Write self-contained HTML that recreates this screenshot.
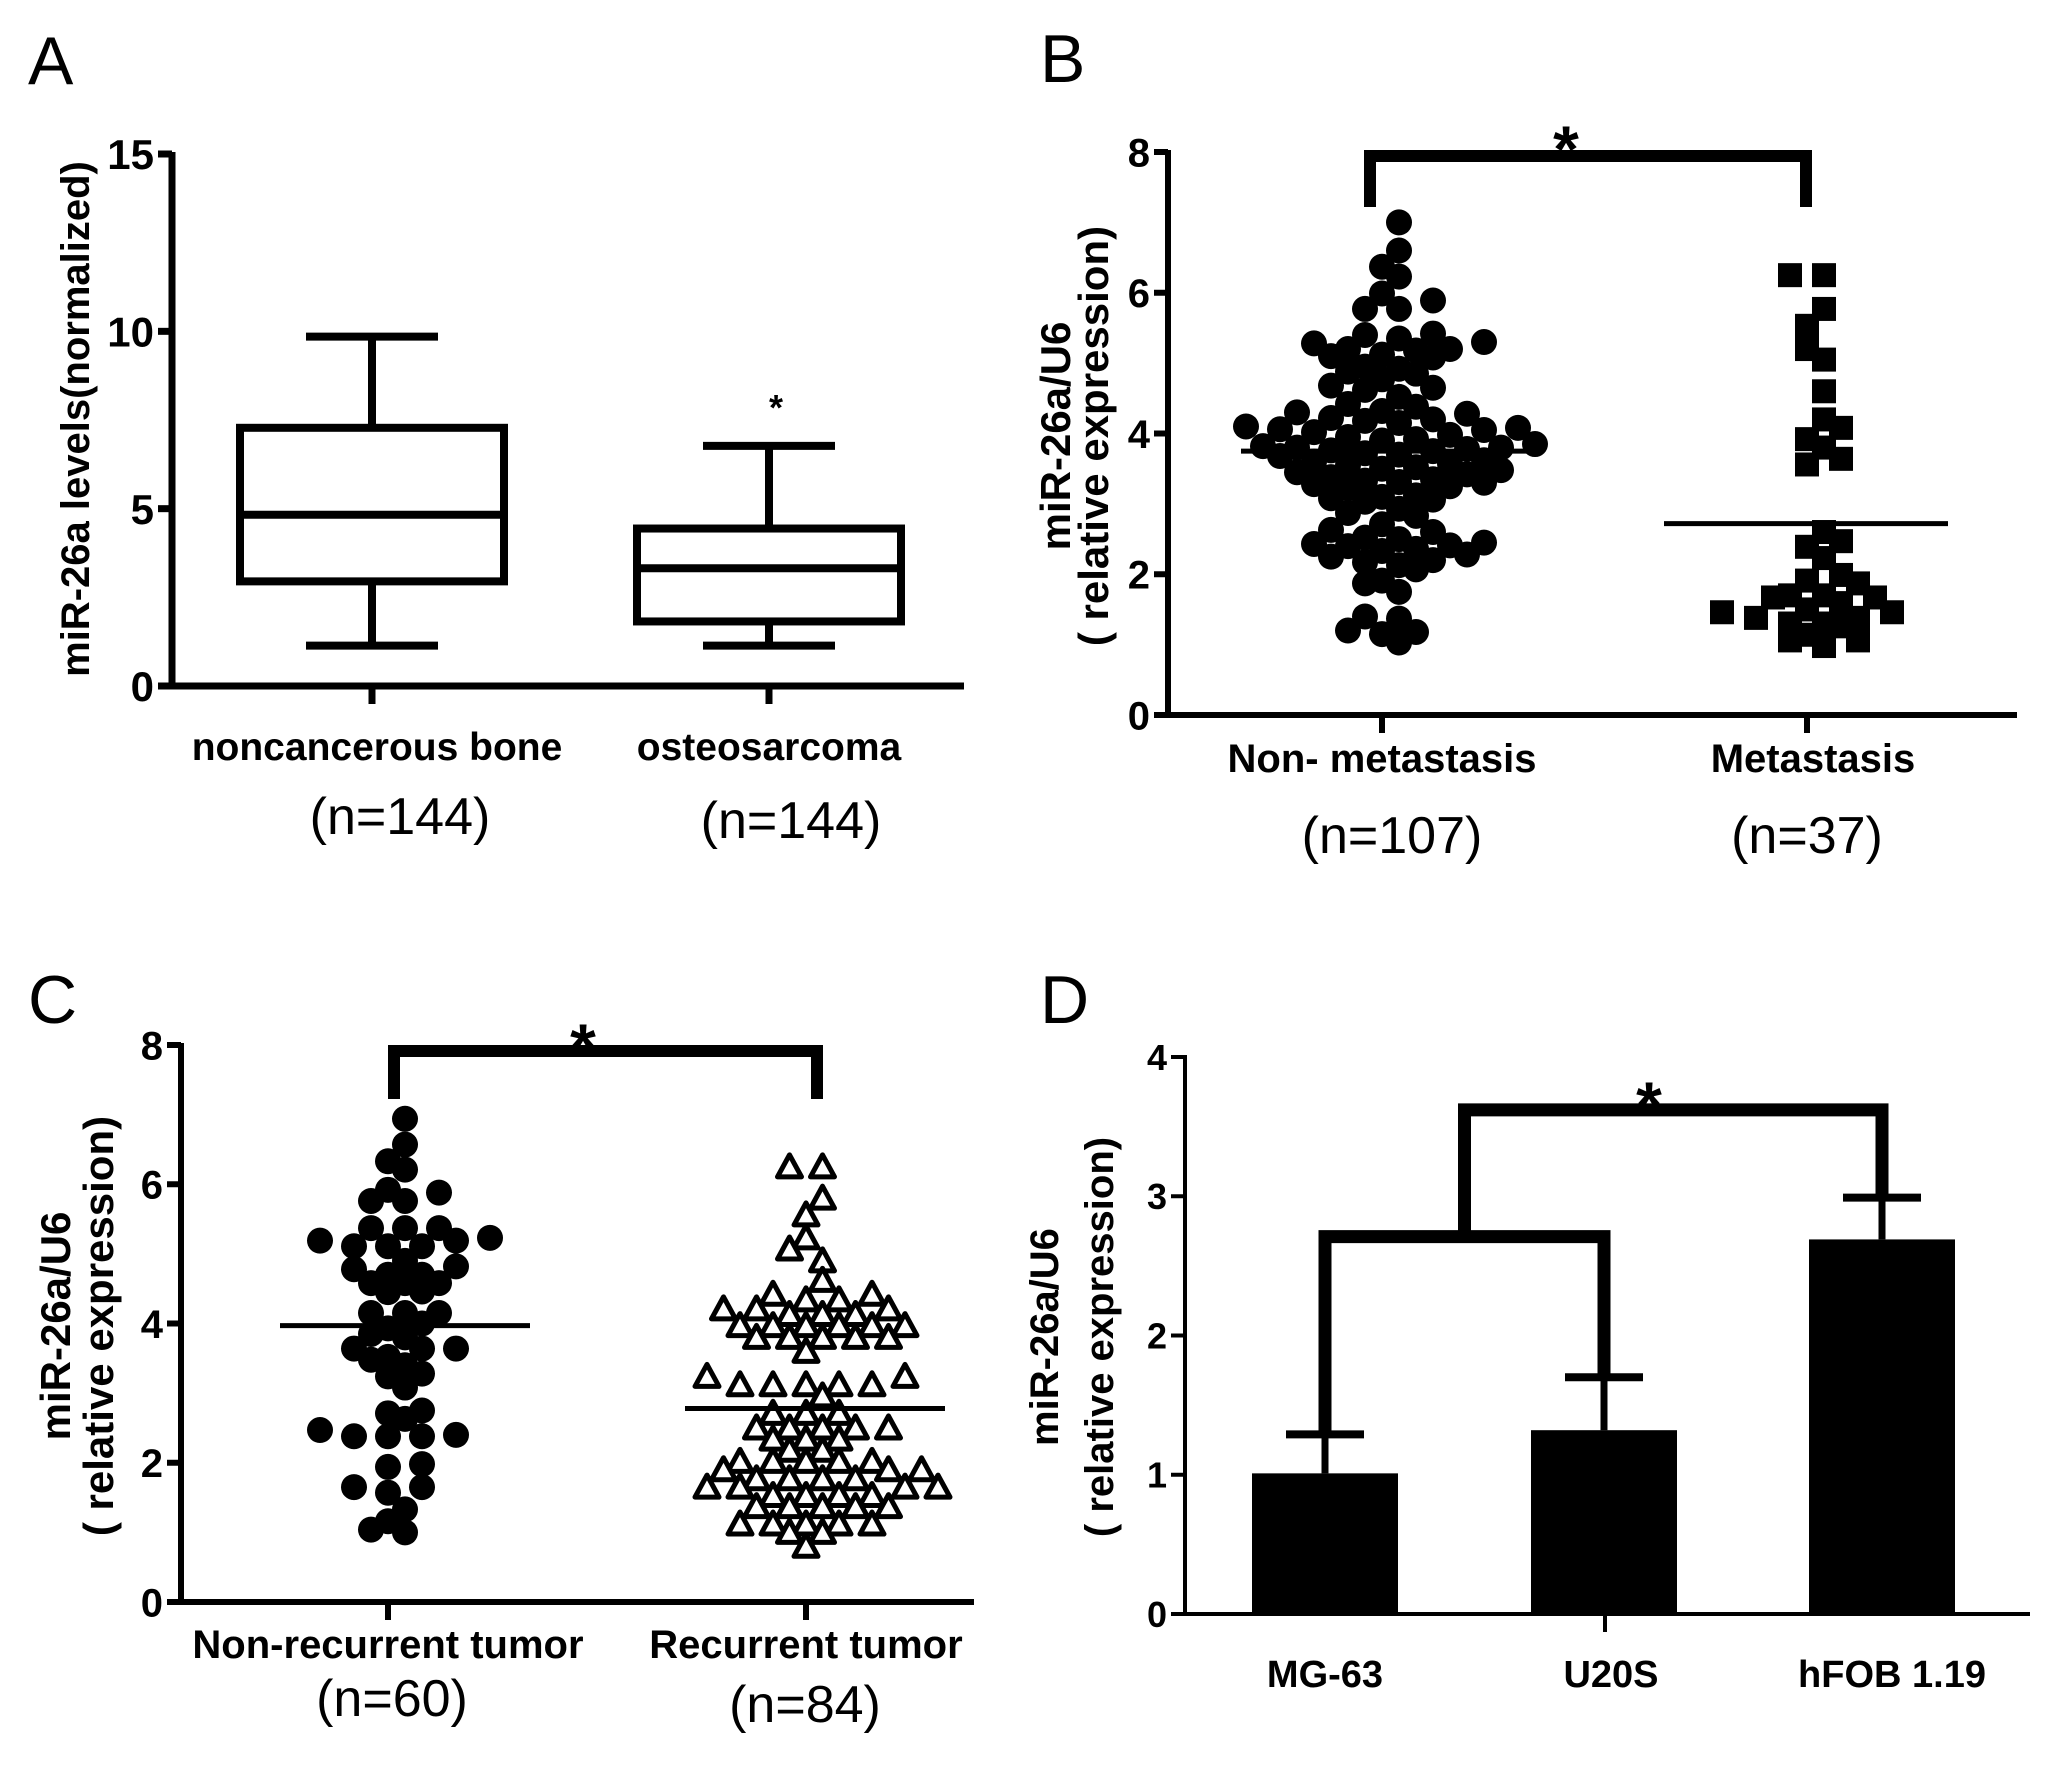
<!DOCTYPE html>
<html><head><meta charset="utf-8">
<style>
html,body{margin:0;padding:0;background:#fff;}
svg{display:block;}
text{font-family:"Liberation Sans",Arial,sans-serif;fill:#000;}
.b{font-weight:bold;}
</style></head>
<body>
<svg id="fig" width="2055" height="1769" viewBox="0 0 2055 1769" xmlns="http://www.w3.org/2000/svg">
<rect width="2055" height="1769" fill="#fff"/>
<text x="28" y="84" font-size="68">A</text>
<text x="1040" y="82" font-size="68">B</text>
<text x="28" y="1023" font-size="68">C</text>
<text x="1040" y="1023" font-size="68">D</text>

<!-- A -->
<text class="b" font-size="40" text-anchor="middle" transform="translate(89,419) rotate(-90)">miR-26a levels(normalized)</text>
<text class="b" font-size="39" x="377" y="760" text-anchor="middle">noncancerous bone</text>
<text class="b" font-size="39" x="769" y="760" text-anchor="middle">osteosarcoma</text>
<text font-size="52" x="400" y="834" text-anchor="middle">(n=144)</text>
<text font-size="52" x="791" y="838" text-anchor="middle">(n=144)</text>
<text class="b" font-size="36" x="776" y="420" text-anchor="middle">*</text>

<!-- B -->
<text class="b" font-size="42" text-anchor="middle" transform="translate(1070,436) rotate(-90)">miR-26a/U6</text>
<text class="b" font-size="42" text-anchor="middle" transform="translate(1108,436) rotate(-90)">( relative expression)</text>
<text class="b" font-size="40" x="1382" y="772" text-anchor="middle">Non- metastasis</text>
<text class="b" font-size="40" x="1813" y="772" text-anchor="middle">Metastasis</text>
<text font-size="52" x="1392" y="853" text-anchor="middle">(n=107)</text>
<text font-size="52" x="1807" y="853" text-anchor="middle">(n=37)</text>
<text class="b" font-size="66" x="1566" y="172" text-anchor="middle">*</text>

<!-- C -->
<text class="b" font-size="42" text-anchor="middle" transform="translate(70,1326) rotate(-90)">miR-26a/U6</text>
<text class="b" font-size="42" text-anchor="middle" transform="translate(113,1326) rotate(-90)">( relative expression)</text>
<text class="b" font-size="40" x="388" y="1658" text-anchor="middle">Non-recurrent tumor</text>
<text class="b" font-size="40" x="806" y="1658" text-anchor="middle">Recurrent tumor</text>
<text font-size="52" x="392" y="1716" text-anchor="middle">(n=60)</text>
<text font-size="52" x="805" y="1722" text-anchor="middle">(n=84)</text>
<text class="b" font-size="66" x="583" y="1070" text-anchor="middle">*</text>

<!-- D -->
<text class="b" font-size="40" text-anchor="middle" transform="translate(1058,1337) rotate(-90)">miR-26a/U6</text>
<text class="b" font-size="40" text-anchor="middle" transform="translate(1113,1337) rotate(-90)">( relative expression)</text>
<text class="b" font-size="38" x="1325" y="1687" text-anchor="middle">MG-63</text>
<text class="b" font-size="38" x="1611" y="1687" text-anchor="middle">U20S</text>
<text class="b" font-size="38" x="1892" y="1687" text-anchor="middle">hFOB 1.19</text>
<text class="b" font-size="66" x="1649" y="1128" text-anchor="middle">*</text>

<g id="marks"></g>
</svg>
<script>
// ---------- DATA ----------
const boxCategories = ["noncancerous bone", "osteosarcoma"];
const boxMin = [1.14, 1.14];
const boxQ1 = [2.95, 1.82];
const boxMedian = [4.83, 3.32];
const boxQ3 = [7.28, 4.44];
const boxMax = [9.85, 6.77];
const ticksA = [0, 5, 10, 15];

const ticksB = [0, 2, 4, 6, 8];
const nonMetastasis = [7.0,6.6,6.37,6.23,5.99,5.89,5.77,5.77,5.42,5.4,
5.35,5.3,5.28,5.2,5.2,5.18,5.12,5.1,5.08,4.92,
4.88,4.85,4.77,4.68,4.65,4.62,4.52,4.42,4.38,4.32,
4.3,4.28,4.22,4.2,4.18,4.15,4.1,4.08,4.06,4.05,
4.02,3.98,3.95,3.92,3.85,3.82,3.8,3.8,3.78,3.76,
3.75,3.72,3.7,3.68,3.6,3.57,3.55,3.52,3.5,3.48,
3.45,3.42,3.38,3.35,3.33,3.31,3.3,3.28,3.25,3.22,
3.12,3.1,3.08,3.06,3.03,2.93,2.87,2.83,2.71,2.63,
2.6,2.52,2.5,2.45,2.43,2.41,2.4,2.36,2.33,2.28,
2.25,2.17,2.13,2.07,1.91,1.87,1.75,1.4,1.37,1.2,
1.18,1.15,1.03,4.95,3.62,3.9,2.2];
const metastasis = [6.25,6.25,5.77,5.53,5.2,5.05,4.6,4.2,4.08,3.92,3.8,3.64,3.56,
2.6,2.47,2.39,2.23,1.99,1.91,1.87,1.7,1.7,1.67,1.67,1.59,1.5,1.46,1.46,1.38,1.38,
1.3,1.3,1.26,1.14,1.06,1.06,0.98];
const meansB = [3.75, 2.72];

const ticksC = [0, 2, 4, 6, 8];
const nonRecurrent = [6.94,6.57,6.33,6.21,5.92,5.88,5.76,5.76,5.37,5.37,5.37,5.23,5.19,5.19,
5.11,5.11,5.11,4.9,4.82,4.78,4.7,4.7,4.58,4.58,4.58,4.46,4.15,4.15,4.15,4.0,3.93,3.85,3.8,
3.64,3.64,3.64,3.52,3.48,3.4,3.28,3.24,3.08,2.75,2.71,2.63,2.47,2.38,2.38,2.38,1.98,1.94,
1.65,1.65,1.57,1.33,1.16,1.04,1.0,4.45,2.4];
const recurrent = [6.25,6.25,5.8,5.56,5.23,5.07,4.9,4.62,4.42,4.42,4.34,4.34,4.21,4.21,4.21,
4.13,4.13,4.13,3.97,3.97,3.97,3.97,3.97,3.97,3.8,3.8,3.8,3.8,3.8,3.6,3.24,3.24,
3.12,3.12,3.12,3.12,3.12,2.96,2.71,2.71,2.71,2.5,2.5,2.5,2.5,2.5,2.34,2.34,2.34,2.18,2.18,
2.02,2.02,2.02,2.02,2.02,1.9,1.9,1.9,1.77,1.77,1.77,1.77,1.65,1.65,1.65,1.65,
1.53,1.53,1.53,1.53,1.37,1.37,1.37,1.37,1.37,1.12,1.12,1.12,1.12,1.12,1.0,1.0,0.8];
const meansC = [3.97, 2.78];

const barCategories = ["MG-63", "U20S", "hFOB 1.19"];
const barValues = [1.01, 1.32, 2.69];
const barErrors = [0.28, 0.38, 0.30];
const ticksD = [0, 1, 2, 3, 4];
const innerBracketY = 2.71;
const outerBracketY = 3.62;

// ---------- DRAWING ----------
const NS = "http://www.w3.org/2000/svg";
const root = document.getElementById("marks");
function add(tag, attrs, name) {
  const e = document.createElementNS(NS, tag);
  for (const k in attrs) e.setAttribute(k, attrs[k]);
  
  
  root.appendChild(e);
  return e;
}
function scaleY(y0px, y1px, vmax) { return v => y0px - (y0px - y1px) * v / vmax; }
function line(x1, y1, x2, y2, w, name) {
  return add("line", {x1, y1, x2, y2, stroke: "#000", "stroke-width": w}, name);
}
function axes(p, ticks, ys, fs, pfx) {
  line(p.ax, ys(ticks[ticks.length-1]) - 2, p.ax, p.y0 + 2, p.w, pfx + "-y-axis");
  line(p.ax - 2, p.y0, p.xend, p.y0, p.w, pfx + "-x-axis");
  ticks.forEach(t => {
    line(p.ax - 14, ys(t), p.ax, ys(t), p.w, pfx + "-y-tick");
    const tx = add("text", {x: p.ax - 18, y: ys(t) + fs * 0.36, "font-size": fs, "font-weight": "bold", "text-anchor": "end"}, pfx + "-y-tick-label");
    tx.textContent = t;
  });
  p.xticks.forEach(x => line(x, p.y0, x, p.y0 + 18, p.w, pfx + "-x-tick"));
}
// hex-packed row layout: even bins on integer grid, odd bins on half grid
function rows(vals, bin, s) {
  const groups = {};
  vals.forEach((v, i) => { const k = Math.round(v / bin); (groups[k] = groups[k] || []).push(i); });
  const xs = new Array(vals.length);
  Object.keys(groups).forEach(k => {
    const g = groups[k].sort((a, b) => vals[a] - vals[b]);
    const odd = Math.abs(+k) % 2 === 1;
    g.forEach((idx, j) => {
      let off;
      if (!odd) off = (j % 2 ? 1 : -1) * Math.ceil(j / 2) * s;
      else off = (j % 2 ? -1 : 1) * (Math.floor(j / 2) + 0.5) * s;
      xs[idx] = off;
    });
  });
  return xs;
}

// Panel A
(function(){
  const p = {ax: 172, y0: 686, xend: 964, w: 7, xticks: [372, 769]};
  const ys = scaleY(686, 154, 15);
  axes(p, ticksA, ys, 42, "a");
  const halfW = 132, capHalf = 66;
  boxCategories.forEach((c, i) => {
    const cx = p.xticks[i];
    add("rect", {x: cx - halfW, y: ys(boxQ3[i]), width: 2*halfW, height: ys(boxQ1[i]) - ys(boxQ3[i]), fill: "none", stroke: "#000", "stroke-width": 8}, "box-" + i);
    line(cx - halfW, ys(boxMedian[i]), cx + halfW, ys(boxMedian[i]), 8, "median-" + i);
    line(cx, ys(boxQ3[i]), cx, ys(boxMax[i]), 8, "whisker-upper-" + i);
    line(cx, ys(boxQ1[i]), cx, ys(boxMin[i]), 8, "whisker-lower-" + i);
    line(cx - capHalf, ys(boxMax[i]), cx + capHalf, ys(boxMax[i]), 8, "whisker-cap-upper-" + i);
    line(cx - capHalf, ys(boxMin[i]), cx + capHalf, ys(boxMin[i]), 8, "whisker-cap-lower-" + i);
  });
})();

// Panel B
(function(){
  const p = {ax: 1168, y0: 715, xend: 2017, w: 6, xticks: [1382, 1807]};
  const ys = scaleY(715, 152, 8);
  axes(p, ticksB, ys, 40, "b");
  const xs1 = rows(nonMetastasis, 0.2, 34);
  nonMetastasis.forEach((v, i) => add("circle", {cx: 1382 + xs1[i], cy: ys(v), r: 13, fill: "#000"}, "dot-non-metastasis"));
  const xs2 = rows(metastasis, 0.2, 34);
  metastasis.forEach((v, i) => add("rect", {x: 1807 + xs2[i] - 12, y: ys(v) - 12, width: 24, height: 24, fill: "#000"}, "square-metastasis"));
  line(1241, ys(meansB[0]), 1527, ys(meansB[0]), 5, "mean-line-non-metastasis");
  line(1664, ys(meansB[1]), 1948, ys(meansB[1]), 5, "mean-line-metastasis");
  add("path", {d: `M1370 207 V156 H1806 V207`, fill: "none", stroke: "#000", "stroke-width": 12}, "significance-bracket-b");
})();

// Panel C
(function(){
  const p = {ax: 181, y0: 1602, xend: 974, w: 6, xticks: [388, 806]};
  const ys = scaleY(1602, 1045, 8);
  axes(p, ticksC, ys, 40, "c");
  const xs1 = rows(nonRecurrent, 0.2, 34);
  nonRecurrent.forEach((v, i) => add("circle", {cx: 388 + xs1[i], cy: ys(v), r: 13, fill: "#000"}, "dot-non-recurrent"));
  const xs2 = rows(recurrent, 0.2, 33);
  recurrent.forEach((v, i) => {
    const cx = 806 + xs2[i], cy = ys(v);
    add("path", {d: `M${cx} ${cy-12} L${cx+12} ${cy+10} L${cx-12} ${cy+10} Z`, fill: "#fff", stroke: "#000", "stroke-width": 5, "stroke-linejoin": "round"}, "triangle-recurrent");
  });
  line(280, ys(meansC[0]), 530, ys(meansC[0]), 5, "mean-line-non-recurrent");
  line(685, ys(meansC[1]), 945, ys(meansC[1]), 5, "mean-line-recurrent");
  add("path", {d: `M394 1099 V1051 H817 V1099`, fill: "none", stroke: "#000", "stroke-width": 12}, "significance-bracket-c");
})();

// Panel D
(function(){
  const p = {ax: 1185, y0: 1614, xend: 2030, w: 4, xticks: [1605]};
  const ys = scaleY(1614, 1057, 4);
  axes(p, ticksD, ys, 36, "d");
  const centers = [1325, 1604, 1882], halfW = 73, capHalf = 39;
  barCategories.forEach((c, i) => {
    const cx = centers[i];
    add("rect", {x: cx - halfW, y: ys(barValues[i]), width: 2*halfW, height: 1614 - ys(barValues[i]), fill: "#000"}, "bar-" + i);
    const top = ys(barValues[i] + barErrors[i]);
    line(cx, ys(barValues[i]), cx, top, 7, "error-bar-" + i);
    line(cx - capHalf, top, cx + capHalf, top, 8, "error-cap-" + i);
  });
  const yi = ys(innerBracketY), yo = ys(outerBracketY);
  const yc0 = ys(barValues[0] + barErrors[0]), yc1 = ys(barValues[1] + barErrors[1]), yc2 = ys(barValues[2] + barErrors[2]);
  add("path", {d: `M${centers[0]} ${yc0} V${yi} H${centers[1]} V${yc1}`, fill: "none", stroke: "#000", "stroke-width": 13}, "significance-bracket-inner");
  const mid = (centers[0] + centers[1]) / 2;
  add("path", {d: `M${mid} ${yi} V${yo} H${centers[2]} V${yc2}`, fill: "none", stroke: "#000", "stroke-width": 13}, "significance-bracket-outer");
})();
</script>
</body></html>
